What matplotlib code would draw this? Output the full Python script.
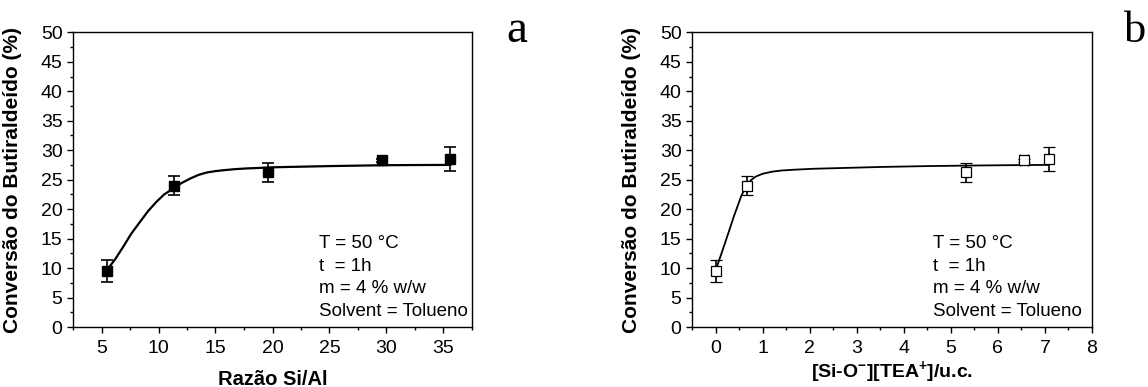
import matplotlib
matplotlib.use("Agg")
import matplotlib.pyplot as plt
from matplotlib.ticker import MultipleLocator

plt.rcParams['font.family'] = ['Liberation Sans', 'DejaVu Sans']
plt.rcParams['mathtext.fontset'] = 'custom'
plt.rcParams['mathtext.rm'] = 'Liberation Sans'
plt.rcParams['mathtext.bf'] = 'Liberation Sans:bold'
plt.rcParams['mathtext.default'] = 'bf'

# data
ratio = [5.45, 11.35, 19.6, 29.6, 35.6]          # Si/Al
tea = [0.01, 0.66, 5.33, 6.56, 7.08]             # [Si-O-][TEA+]/u.c.
tea_err = [0, 0, 0, 0.09, 0]
conv = [9.5, 24.0, 26.25, 28.25, 28.5]           # conversion (%)
conv_err = [1.8, 1.6, 1.65, 0.3, 2.05]

# fitted curves
fit_a_x = [5.45, 6.2, 6.9, 7.6, 8.4, 9.1, 9.8, 10.5, 11.3, 12.0, 12.8, 13.5,
           14.2, 15.0, 15.7, 16.7, 17.7, 19.0, 20.1, 22.5, 25.0, 27.5, 30.0,
           32.5, 35.6]
fit_a_y = [9.6, 11.5, 13.6, 15.8, 17.9, 19.7, 21.2, 22.5, 23.5, 24.4, 25.2,
           25.8, 26.2, 26.45, 26.6, 26.78, 26.9, 27.0, 27.1, 27.2, 27.3, 27.38,
           27.45, 27.48, 27.5]
fit_b_x = [0.02, 0.2, 0.4, 0.55, 0.65, 0.75, 0.85, 1.0, 1.2, 1.4, 1.7, 2.1,
           2.8, 3.5, 4.5, 5.5, 6.5, 7.07]
fit_b_y = [10.0, 14.2, 19.0, 22.3, 23.9, 24.9, 25.5, 26.0, 26.35, 26.55, 26.7,
           26.85, 27.0, 27.15, 27.3, 27.4, 27.47, 27.5]

notes = ["T = 50 \u00b0C", "t  = 1h", "m = 4 % w/w", "Solvent = Tolueno"]

W, H = 1148, 387
fig = plt.figure(figsize=(W / 100, H / 100), dpi=100)
ax1 = fig.add_axes([73 / W, 60 / H, 399 / W, 294.7 / H])
ax2 = fig.add_axes([692 / W, 60 / H, 400 / W, 294.7 / H])


def style(ax):
    ax.set_ylim(0, 50)
    ax.yaxis.set_major_locator(MultipleLocator(5))
    ax.yaxis.set_minor_locator(MultipleLocator(2.5))
    ax.tick_params(which='both', direction='out', top=False, right=False,
                   labelsize=14, width=1, color='black')
    ax.tick_params(which='major', length=4.5, pad=3)
    ax.tick_params(axis='x', which='major', pad=5)
    ax.tick_params(which='minor', length=2.5)
    for s in ax.spines.values():
        s.set_linewidth(1.0)
    ax.set_ylabel("Convers\u00e3o do Butiralde\u00eddo (%)", fontsize=15,
                  fontweight='bold')
    ax.yaxis.set_label_coords(-0.128, 0.5)


# panel a
ax1.set_xlim(2.5, 37.5)
ax1.xaxis.set_major_locator(MultipleLocator(5))
ax1.xaxis.set_minor_locator(MultipleLocator(2.5))
style(ax1)
ax1.plot(fit_a_x, fit_a_y, color='black', lw=1.6)
ax1.errorbar(ratio, conv, yerr=conv_err, fmt='s', color='black', ms=6.5,
             mfc='black', mec='black', ecolor='black', elinewidth=1.2,
             capsize=4.5, capthick=1.2)
ax1.set_xlabel("Raz\u00e3o Si/Al", fontsize=14.5, fontweight='bold', labelpad=9)

# panel b
ax2.set_xlim(-0.5, 8)
ax2.xaxis.set_major_locator(MultipleLocator(1))
ax2.xaxis.set_minor_locator(MultipleLocator(0.5))
style(ax2)
ax2.plot(fit_b_x, fit_b_y, color='black', lw=1.3)
ax2.errorbar(tea, conv, yerr=conv_err, xerr=tea_err, fmt='s', ms=6.5,
             mfc='white', mec='black', mew=0.9, ecolor='black',
             elinewidth=1.2, capsize=4.5, capthick=1.2)
ax2.set_xlabel("[Si-O$^{-}$][TEA$^{+}$]/u.c.", fontsize=14, fontweight='bold',
               labelpad=1)

for ax, x0 in ((ax1, 0.617), (ax2, 0.6025)):
    for i, t in enumerate(notes):
        ax.text(x0, (327 - (243.3 + 22.8 * i)) / 294.7, t, fontsize=13.5,
                transform=ax.transAxes, va='center', ha='left')

fig.text(506 / W, 1 - 41.7 / H, "a", fontsize=34, family='Liberation Serif',
         ha='left', va='baseline')
fig.text(1124 / W, 1 - 42 / H, "b", fontsize=32, family='Liberation Serif',
         ha='left', va='baseline')

fig.savefig("out.png", dpi=100)
